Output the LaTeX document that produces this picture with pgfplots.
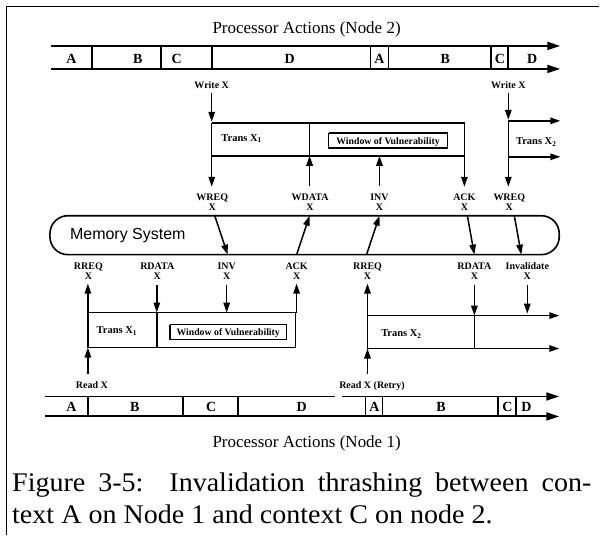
\documentclass[border=0pt]{standalone}
\usepackage{pgfplots}
\pgfplotsset{compat=1.18}
\usetikzlibrary{arrows.meta}
\usepackage{fontspec}
\setmainfont{Liberation Serif}
\newfontfamily\capfont[FakeStretch=1.04]{Liberation Serif}
\newfontfamily\sansf{Liberation Sans}
\tikzset{
 tl/.style={line width=1.9pt},
 tla/.style={line width=1.9pt, -{Triangle[length=13pt,width=8pt]}},
 ar/.style={line width=1.5pt, -{Triangle[length=10pt,width=6.5pt]}},
 bx/.style={line width=1.5pt},
 lab/.style={font=\bfseries\fontsize{10}{10}\selectfont, anchor=base, inner sep=0pt},
 tlab/.style={font=\bfseries\fontsize{14}{14}\selectfont, anchor=base, inner sep=0pt},
 wlab/.style={font=\bfseries\fontsize{9.8}{10}\selectfont, anchor=base, inner sep=0pt},
 xlab/.style={font=\bfseries\fontsize{10.5}{10}\selectfont, anchor=base, inner sep=0pt},
}
\begin{document}
\begin{tikzpicture}
\begin{axis}[
  width=600pt, height=536pt, scale only axis,
  xmin=0, xmax=600, ymin=0, ymax=536, y dir=reverse,
  hide axis, clip=false,
  every axis plot/.append style={black, line width=1.5pt, mark=none},
]
% bounding corners
\addplot[draw=none] coordinates {(0,0) (600,536)};
% frame
\addplot[line width=1.6pt] coordinates {(600,6.5) (6.5,6.5) (6.5,536)};

% ===== Node 2 timeline =====
\node[font=\fontsize{17}{17}\selectfont, anchor=base, inner sep=0pt] at (axis cs:307,33.5) {Processor Actions (Node 2)};
\addplot[tla] coordinates {(51,46) (561,46)};
\addplot[tla] coordinates {(51,69) (561,69)};
\addplot[tl] coordinates {(92,46) (92,69)};
\addplot[tl] coordinates {(161,46) (161,69)};
\addplot[tl] coordinates {(212,46) (212,69)};
\addplot[tl] coordinates {(371,46) (371,69)};
\addplot[tl] coordinates {(389,46) (389,69)};
\addplot[tl] coordinates {(492,46) (492,69)};
\addplot[tl] coordinates {(509,46) (509,69)};
\node[tlab] at (axis cs:71.5,64) {A};
\node[tlab] at (axis cs:138,64) {B};
\node[tlab] at (axis cs:177,64) {C};
\node[tlab] at (axis cs:290,64) {D};
\node[tlab] at (axis cs:380,64) {A};
\node[tlab] at (axis cs:446,64) {B};
\node[tlab] at (axis cs:500.5,64) {C};
\node[tlab] at (axis cs:533,64) {D};

% Write X arrows
\node[lab] at (axis cs:212,89) {Write X};
\addplot[ar] coordinates {(212,93) (212,122)};
\node[lab] at (axis cs:509,89) {Write X};
\addplot[ar] coordinates {(509,93) (509,120)};

% Trans X1 (node 2)
\addplot[bx] coordinates {(212,123) (465,123) (465,156) (212,156) (212,123)};
\addplot[bx] coordinates {(310,123) (310,156)};
\addplot[line width=1.7pt] coordinates {(329,133) (448,133) (448,148.5) (329,148.5) (329,133)};
\node[xlab] at (axis cs:242,141.5) {Trans X\textsubscript{1}};
\node[wlab] at (axis cs:388.5,144.5) {Window of Vulnerability};

% Trans X2 (node 2)
\addplot[bx] coordinates {(509,121) (509,157)};
\addplot[ar] coordinates {(509,121) (561,121)};
\addplot[ar] coordinates {(509,157) (561,157)};
\node[xlab] at (axis cs:537,145) {Trans X\textsubscript{2}};

% arrows node2 <-> labels
\addplot[ar] coordinates {(212,156) (212,187)};
\addplot[ar] coordinates {(310,186) (310,156)};
\addplot[ar] coordinates {(380,186) (380,156)};
\addplot[ar] coordinates {(465,156) (465,187)};
\addplot[ar] coordinates {(509,157) (509,187)};

\node[lab] at (axis cs:212.5,200.5) {WREQ};
\node[lab] at (axis cs:212.5,211) {X};
\node[lab] at (axis cs:310.5,200.5) {WDATA};
\node[lab] at (axis cs:310.5,211) {X};
\node[lab] at (axis cs:380,200.5) {INV};
\node[lab] at (axis cs:380,211) {X};
\node[lab] at (axis cs:465,200.5) {ACK};
\node[lab] at (axis cs:465,211) {X};
\node[lab] at (axis cs:510,200.5) {WREQ};
\node[lab] at (axis cs:510,211) {X};

% ===== Memory system =====
\addplot[line width=1.6pt, rounded corners=18pt] coordinates {(300,216) (560,216) (560,255) (50,255) (50,216) (300,216)};
\node[font=\sansf\fontsize{16}{16}\selectfont, anchor=base west, inner sep=0pt] at (axis cs:70,240) {Memory System};
\addplot[ar] coordinates {(215,216) (228,255)};
\addplot[ar] coordinates {(297,255) (310,216)};
\addplot[ar] coordinates {(367,255) (380,216)};
\addplot[ar] coordinates {(468,216) (475,255)};
\addplot[ar] coordinates {(515,216) (522,255)};

% ===== lower labels =====
\node[lab] at (axis cs:88.5,269.5) {RREQ};
\node[lab] at (axis cs:88.5,280) {X};
\node[lab] at (axis cs:157.5,269.5) {RDATA};
\node[lab] at (axis cs:157.5,280) {X};
\node[lab] at (axis cs:227,269.5) {INV};
\node[lab] at (axis cs:227,280) {X};
\node[lab] at (axis cs:297,269.5) {ACK};
\node[lab] at (axis cs:297,280) {X};
\node[lab] at (axis cs:368,269.5) {RREQ};
\node[lab] at (axis cs:368,280) {X};
\node[lab] at (axis cs:475,269.5) {RDATA};
\node[lab] at (axis cs:475,280) {X};
\node[lab] at (axis cs:528,269.5) {Invalidate};
\node[lab] at (axis cs:528,280) {X};

\addplot[ar] coordinates {(88,313) (88,284)};
\addplot[ar] coordinates {(157,285) (157,313)};
\addplot[ar] coordinates {(227,285) (227,313)};
\addplot[ar] coordinates {(297,313) (297,284)};
\addplot[ar] coordinates {(368,316) (368,284)};
\addplot[ar] coordinates {(475,285) (475,316)};
\addplot[ar] coordinates {(528,285) (528,314)};

% Trans X1 (node 1)
\addplot[bx] coordinates {(88,313) (296,313) (296,348) (88,348) (88,313)};
\addplot[bx] coordinates {(157,313) (157,348)};
\addplot[line width=1.7pt] coordinates {(170,325) (287,325) (287,340) (170,340) (170,325)};
\node[xlab] at (axis cs:117,334) {Trans X\textsubscript{1}};
\node[wlab] at (axis cs:228.5,336) {Window of Vulnerability};

% Trans X2 (node 1)
\addplot[bx] coordinates {(368,316) (368,349)};
\addplot[ar] coordinates {(368,316) (560,316)};
\addplot[ar] coordinates {(368,349) (560,349)};
\addplot[bx] coordinates {(475,316) (475,349)};
\node[xlab] at (axis cs:402,337) {Trans X\textsubscript{2}};

% Read arrows
\addplot[ar] coordinates {(88,375) (88,348)};
\node[lab] at (axis cs:92,389) {Read X};
\addplot[ar] coordinates {(368,375) (368,349)};
\node[lab] at (axis cs:372.5,389) {Read X (Retry)};

% ===== Node 1 timeline =====
\addplot[tl] coordinates {(45,397) (335,397)};
\addplot[tla] coordinates {(342,397) (560,397)};
\addplot[tla] coordinates {(45,417) (560,417)};
\addplot[tl] coordinates {(88,397) (88,417)};
\addplot[tl] coordinates {(183,397) (183,417)};
\addplot[tl] coordinates {(238,397) (238,417)};
\addplot[tl] coordinates {(366,397) (366,417)};
\addplot[tl] coordinates {(383,397) (383,417)};
\addplot[tl] coordinates {(499,397) (499,417)};
\addplot[tl] coordinates {(517,397) (517,417)};
\node[tlab] at (axis cs:71.5,412) {A};
\node[tlab] at (axis cs:135,412) {B};
\node[tlab] at (axis cs:211.5,412) {C};
\node[tlab] at (axis cs:302,412) {D};
\node[tlab] at (axis cs:375,412) {A};
\node[tlab] at (axis cs:441.5,412) {B};
\node[tlab] at (axis cs:508,412) {C};
\node[tlab] at (axis cs:527,412) {D};
\node[font=\fontsize{17}{17}\selectfont, anchor=base, inner sep=0pt] at (axis cs:307,448) {Processor Actions (Node 1)};

% ===== caption =====
\node[anchor=base west, inner sep=0pt, font=\capfont\fontsize{27}{27}\selectfont] at (axis cs:12,492) {\makebox[580pt][s]{Figure 3-5:\ \ Invalidation thrashing between con-}};
\node[anchor=base west, inner sep=0pt, font=\capfont\fontsize{27}{27}\selectfont] at (axis cs:12,524) {text A on Node 1 and context C on node 2.};
\end{axis}
\end{tikzpicture}
\end{document}
